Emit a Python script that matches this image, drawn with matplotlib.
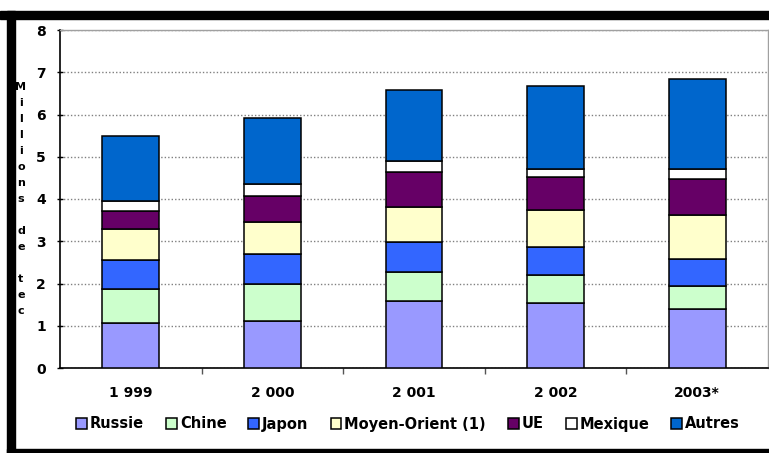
import matplotlib
matplotlib.use('Agg')
import matplotlib.pyplot as plt
from matplotlib.patches import Rectangle
import numpy as np

plt.rcParams['font.family'] = ['DejaVu Sans']
plt.rcParams['font.weight'] = 'bold'

annees = ['1 999', '2 000', '2 001', '2 002', '2003*']
origines = ['Russie', 'Chine', 'Japon', 'Moyen-Orient (1)', 'UE', 'Mexique', 'Autres']

# Millions de tec, par origine (empilées dans cet ordre)
russie       = [1.07, 1.11, 1.59, 1.54, 1.39]
chine        = [0.79, 0.88, 0.69, 0.66, 0.55]
japon        = [0.69, 0.71, 0.71, 0.67, 0.65]
moyen_orient = [0.75, 0.76, 0.82, 0.87, 1.03]
ue           = [0.42, 0.61, 0.82, 0.77, 0.86]
mexique      = [0.24, 0.28, 0.27, 0.19, 0.22]
autres       = [1.52, 1.56, 1.69, 1.97, 2.13]

series = [russie, chine, japon, moyen_orient, ue, mexique, autres]
couleurs = ['#9999FF', '#CCFFCC', '#3366FF', '#FFFFCC', '#660066', '#FFFFFF', '#0066CC']

W, H = 769, 453
fig = plt.figure(figsize=(W / 100, H / 100), dpi=100)
ax = fig.add_axes([60 / W, 85 / H, 708 / W, 338 / H])

x = np.arange(len(annees))
bas = np.zeros(len(annees))
for vals, col, nom in zip(series, couleurs, origines):
    ax.bar(x, vals, width=0.40, bottom=bas, color=col, edgecolor='black',
           linewidth=1.1, label=nom, zorder=3)
    bas += np.array(vals)

ax.set_xlim(-0.5, len(annees) - 0.5)
ax.set_ylim(0, 8)
ax.set_yticks(range(0, 9))
ax.yaxis.grid(True, color='#808080', linestyle=(0, (1, 1.5)), linewidth=1.0, zorder=0)
ax.set_axisbelow(True)

# ticks x entre les catégories, étiquettes centrées sous les barres
ax.set_xticks(x)
ax.set_xticklabels(annees, fontsize=10, fontweight='bold')
ax.tick_params(axis='x', length=0, pad=13)
ax.set_xticks(np.arange(0.5, len(annees) - 0.5), minor=True)
ax.tick_params(axis='x', which='minor', length=4, width=1, direction='out', color='#555555')
ax.tick_params(axis='y', length=4, width=1, direction='inout', labelsize=10, pad=8)
for lbl in ax.get_yticklabels():
    lbl.set_fontweight('bold')

for side in ['left', 'bottom']:
    ax.spines[side].set_color('black')
    ax.spines[side].set_linewidth(1.2)
for side in ['top', 'right']:
    ax.spines[side].set_color('#a0a0a0')
    ax.spines[side].set_linewidth(1.0)

# titre de l'axe y en lettres empilées
ylab = '\n'.join('Millions de tec')
fig.text(21 / W, 1 - 199 / H, ylab, ha='center', va='center', fontsize=8,
         fontweight='bold', linespacing=1.75)

fig.legend(loc='center', bbox_to_anchor=(408 / W, 1 - 424 / H), ncol=7,
           frameon=False, fontsize=10.5, handlelength=0.75, handleheight=0.75,
           handletextpad=0.2, columnspacing=1.5, borderaxespad=0)

# cadre noir autour de l'image
fig.patches.append(Rectangle((0, 1 - 19 / H), 1, 8 / H, transform=fig.transFigure,
                             color='black', zorder=10))
fig.patches.append(Rectangle((7 / W, 0), 8 / W, 1 - 11 / H, transform=fig.transFigure,
                             color='black', zorder=10))
fig.patches.append(Rectangle((7 / W, 0), 1, 4 / H, transform=fig.transFigure,
                             color='black', zorder=10))

fig.savefig('out.png', dpi=100)
